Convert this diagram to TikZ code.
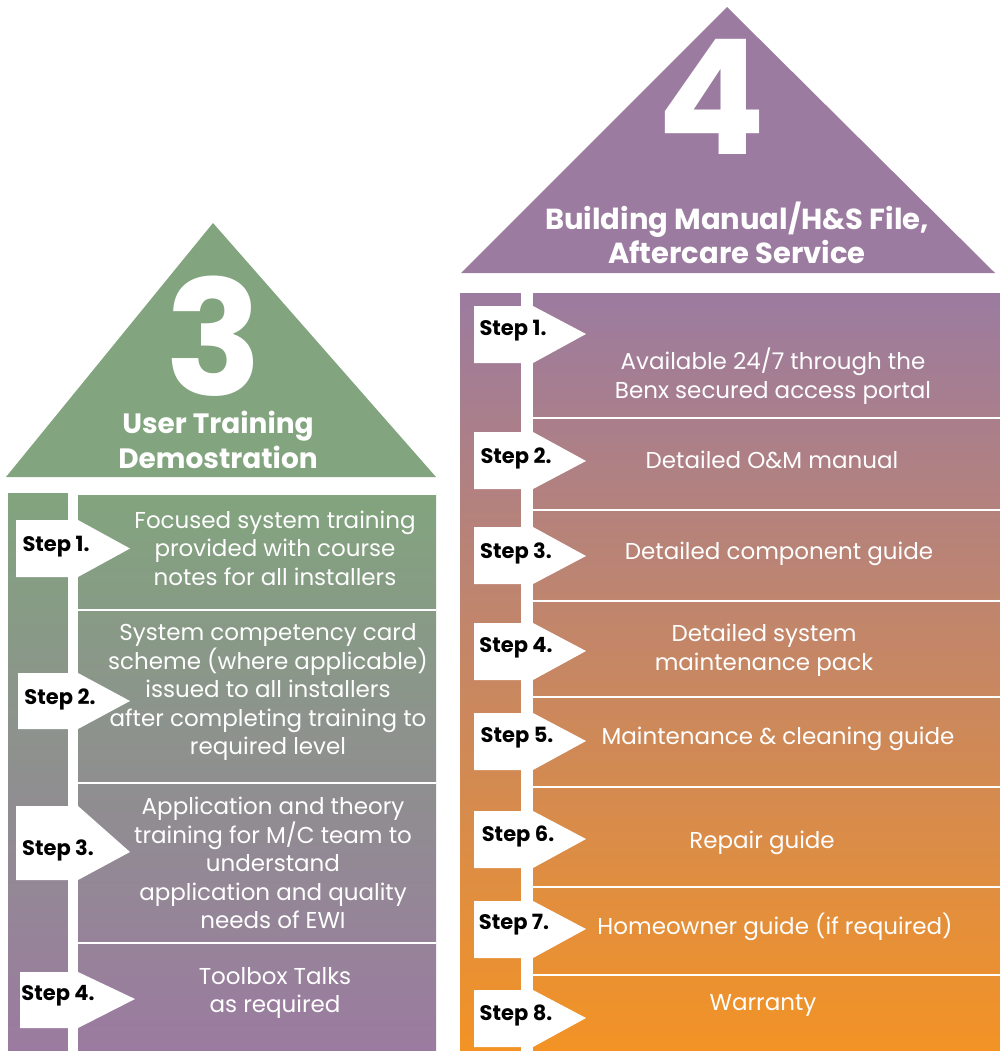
\documentclass[tikz,border=0pt]{standalone}
\usepackage{fontspec}
\setmainfont{Poppins}
\usetikzlibrary{positioning}
\definecolor{trainGreen}{HTML}{82A47E}
\definecolor{midGrey}{HTML}{8D8D8D}
\definecolor{careMauve}{HTML}{9B7BA0}
\definecolor{careOrange}{HTML}{F39325}

\begin{document}
\begin{tikzpicture}[
    x=1pt, y=-1pt,
    bignum/.style={text=white, inner sep=0pt, anchor=base, text depth=0pt,
                   font=\fontsize{160}{160}\selectfont\bfseries},
    title/.style={text=white, align=center, inner sep=0pt,
                  font=\fontsize{28}{35}\selectfont\bfseries},
    body/.style={text=white, align=center, inner sep=0pt,
                 font=\fontsize{23}{28.5}\selectfont},
    flag/.style={fill=white},
    steplbl/.style={text=black, inner sep=0pt,
                    font=\fontsize{21}{21}\selectfont\bfseries},
    sep/.style={white, line width=1.3pt},
    gap/.style={fill=white},
]
\useasboundingbox (0,0) rectangle (1000,1051);

% Stage 3: roof
\fill[trainGreen] (6,477) -- (213,223) -- (436,477) -- cycle;
\node[bignum] (n3) at (214,395) {3};
\node[title] (t3) at (218,440) {User Training\\Demostration};

% Stage 3: body
\fill[top color=trainGreen, middle color=midGrey, bottom color=careMauve]
    (8,493) rectangle (436,1051);
\fill[gap] (68,493) rectangle (78,1051);
\fill[gap] (78,493) rectangle (436,495);
\draw[sep] (78,610) -- (436,610);
\draw[sep] (78,783) -- (436,783);
\draw[sep] (78,943) -- (436,943);

% Stage 3: steps
\fill[flag] (16,520) -- (78,520) -- (130,548.5) -- (78,577) -- (16,577) -- cycle;
\fill[flag] (18,673) -- (78,673) -- (130,701) -- (78,729) -- (18,729) -- cycle;
\fill[flag] (16,806) -- (78,806) -- (130,852) -- (78,880) -- (16,880) -- cycle;
\fill[flag] (20,972) -- (78,972) -- (135,999) -- (78,1028) -- (20,1028) -- cycle;
\node[steplbl] (l1) at (56,547) {Step 1.};
\node[steplbl] (l2) at (60,699) {Step 2.};
\node[steplbl] (l3) at (58,850) {Step 3.};
\node[steplbl] (l4) at (58,996) {Step 4.};

\node[body] (lt1) at (275,548)
    {Focused system training\\provided with course\\notes for all installers};
\node[body] (lt2) at (268,692)
    {System competency card\\scheme (where applicable)\\issued to all installers\\after completing training to\\required level};
\node[body] (lt3) at (273,863)
    {Application and theory\\training for M/C team to\\understand\\application and quality\\needs of EWI};
\node[body] (lt4) at (275,993) {Toolbox Talks\\as required};

% Stage 4: roof
\fill[careMauve] (461,273) -- (727,7) -- (995,273) -- cycle;
\node[bignum] (n4) at (712,155) {4};
\node[title, font=\fontsize{29}{34}\selectfont\bfseries] (t4) at (737,233)
    {Building Manual/H\&S File,\\Aftercare Service};

% Stage 4: body
\fill[top color=careMauve, bottom color=careOrange]
    (460,293) rectangle (1000,1051);
\fill[gap] (521,293) rectangle (533,1051);
\draw[sep] (533,418) -- (1000,418);
\draw[sep] (533,510) -- (1000,510);
\draw[sep] (533,601) -- (1000,601);
\draw[sep] (533,697) -- (1000,697);
\draw[sep] (533,787) -- (1000,787);
\draw[sep] (533,887) -- (1000,887);
\draw[sep] (533,975) -- (1000,975);

% Stage 4: steps
\fill[flag] (474,306) -- (533,306) -- (586,334) -- (533,363) -- (474,363) -- cycle;
\fill[flag] (474,432) -- (533,432) -- (586,461) -- (533,489) -- (474,489) -- cycle;
\fill[flag] (474,527) -- (533,527) -- (586,556) -- (533,584) -- (474,584) -- cycle;
\fill[flag] (474,623) -- (533,623) -- (586,651) -- (533,680) -- (474,680) -- cycle;
\fill[flag] (474,713) -- (533,713) -- (586,741) -- (533,770) -- (474,770) -- cycle;
\fill[flag] (474,811) -- (533,811) -- (586,839) -- (533,868) -- (474,868) -- cycle;
\fill[flag] (474,901) -- (533,901) -- (586,929) -- (533,958) -- (474,958) -- cycle;
\fill[flag] (474,990) -- (533,990) -- (586,1018) -- (533,1047) -- (474,1047) -- cycle;
\node[steplbl] (r1) at (513,331) {Step 1.};
\node[steplbl] (r2) at (516,458) {Step 2.};
\node[steplbl] (r3) at (516,553) {Step 3.};
\node[steplbl] (r4) at (516,648) {Step 4.};
\node[steplbl] (r5) at (517,738) {Step 5.};
\node[steplbl] (r6) at (518,836) {Step 6.};
\node[steplbl] (r7) at (514,925) {Step 7.};
\node[steplbl] (r8) at (516,1015) {Step 8.};

\node[body] (rt1) at (773,376)
    {Available 24/7 through the\\Benx secured access portal};
\node[body] (rt2) at (772,460) {Detailed O\&M manual};
\node[body] (rt3) at (779,554) {Detailed component guide};
\node[body] (rt4) at (764,650) {Detailed system\\maintenance pack};
\node[body] (rt5) at (778,739) {Maintenance \& cleaning guide};
\node[body] (rt6) at (762,843) {Repair guide};
\node[body] (rt7) at (775,927) {Homeowner guide (if required)};
\node[body] (rt8) at (763,1005) {Warranty};
\end{tikzpicture}
\end{document}
